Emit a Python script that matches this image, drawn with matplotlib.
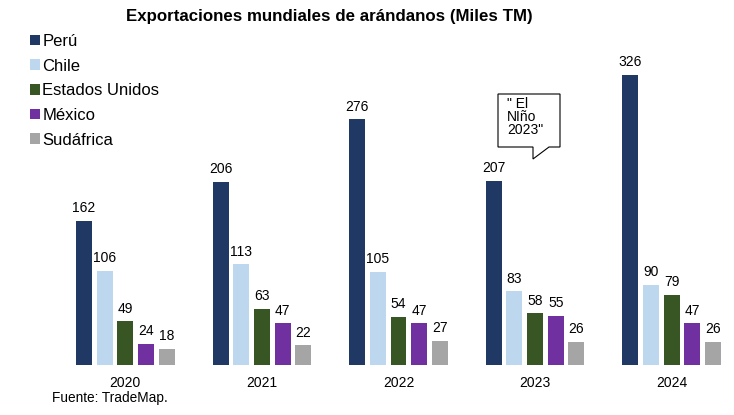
import matplotlib
matplotlib.use("Agg")
import matplotlib.pyplot as plt
from matplotlib.patches import Polygon, Patch
import numpy as np

plt.rcParams['font.family'] = ['Liberation Sans', 'DejaVu Sans']

years = ["2020", "2021", "2022", "2023", "2024"]
countries = ["Perú", "Chile", "Estados Unidos", "México", "Sudáfrica"]
peru = [162, 206, 276, 207, 326]
chile = [106, 113, 105, 83, 90]
usa = [49, 63, 54, 58, 79]
mexico = [24, 47, 47, 55, 47]
sudafrica = [18, 22, 27, 26, 26]
series = [peru, chile, usa, mexico, sudafrica]
colors = ["#203864", "#BDD7EE", "#375623", "#7030A0", "#A5A5A5"]

W, H = 734, 415
fig = plt.figure(figsize=(W/100, H/100), dpi=100)
ax_left = 57 / W
ax_w = (734 - 57) / W
ax = fig.add_axes([ax_left, 50 / H, ax_w, 311.5 / H])

x = np.arange(len(years))
pitch = 0.1515
width = 0.117
for j, (vals, c) in enumerate(zip(series, colors)):
    pos = x + (j - 2) * pitch
    bars = ax.bar(pos, vals, width=width, color=c)
    for p, v in zip(pos, vals):
        ax.annotate(str(v), (p, v), xytext=(0, 4), textcoords="offset points",
                    ha="center", va="bottom", fontsize=10, color="#000000")

ax.set_xlim(-0.5, -0.5 + (734 - 57) / 136.6)
ax.set_ylim(0, 350)
ax.set_xticks(x)
ax.set_xticklabels(years, fontsize=10)
ax.tick_params(axis='x', length=0, pad=8)
ax.set_yticks([])
for s in ax.spines.values():
    s.set_visible(False)

fig.text(329 / W, 1 - 16 / H, "Exportaciones mundiales de arándanos (Miles TM)",
         ha="center", va="center", fontsize=12.2, fontweight="bold")

handles = [Patch(facecolor=c, edgecolor='none') for c in colors]
fig.legend(handles, countries, loc="upper left", bbox_to_anchor=(30 / W, 1 - 34 / H),
           frameon=False, fontsize=12, handlelength=0.6, handleheight=0.6,
           handletextpad=0.15, labelspacing=0.58, borderaxespad=0, borderpad=0)

fig.text(52 / W, 1 - 398 / H, "Fuente: TradeMap.", ha="left", va="center", fontsize=9.8)

# callout
def fp(px, py):
    return (px / W, 1 - py / H)
pts = [fp(498, 94), fp(560, 94), fp(560, 147), fp(549, 147), fp(533, 159),
       fp(533, 147), fp(498, 147)]
fig.patches.append(Polygon(pts, closed=True, transform=fig.transFigure,
                           facecolor="white", edgecolor="black", linewidth=0.8))
fig.text(507 / W, 1 - 97 / H, "\" El\nNIño\n2023\"", ha="left", va="top",
         fontsize=10, linespacing=0.92)

fig.savefig("out.png", dpi=100)
